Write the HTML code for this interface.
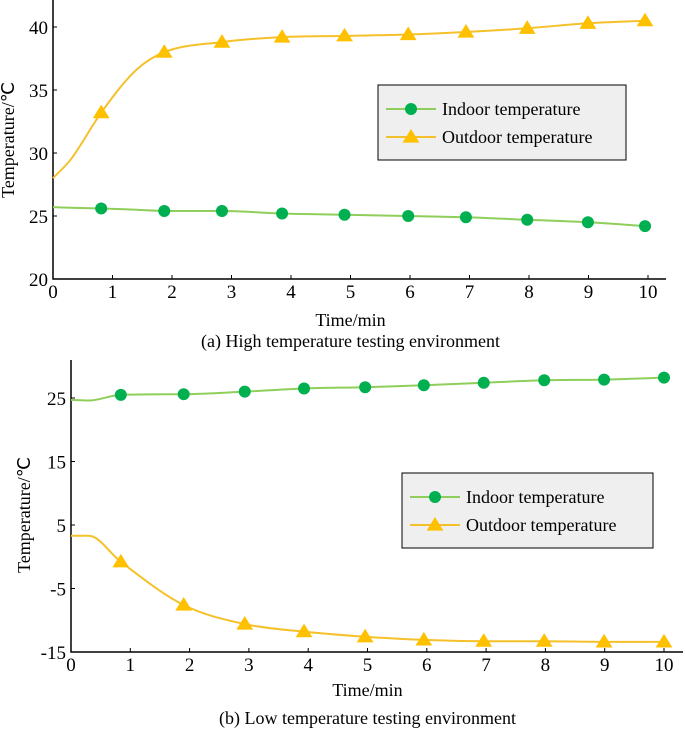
<!DOCTYPE html>
<html><head><meta charset="utf-8"><style>
body{margin:0;background:#fff}
svg{display:block;font-family:"Liberation Serif",serif}
</style></head><body>
<svg id="c" width="685" height="731"></svg>
<script>
const xTicks=[0,1,2,3,4,5,6,7,8,9,10];
const aYTicks=[20,25,30,35,40];
const aX=[0,0.3,0.81,1.4,1.87,2.84,3.85,4.9,5.97,6.94,7.97,8.99,9.95];
const aIndoor=[25.7,25.65,25.6,25.5,25.4,25.4,25.2,25.1,25.0,24.9,24.7,24.5,24.2];
const aOutdoor=[28,29.5,33.2,36.6,38.0,38.8,39.2,39.3,39.4,39.6,39.9,40.3,40.5];
const aMarked=[0,0,1,0,1,1,1,1,1,1,1,1,1];
const bYTicks=[-15,-5,5,15,25];
const bX=[0,0.3,0.84,1.9,2.93,3.93,4.96,5.95,6.96,7.98,8.99,10];
const bIndoor=[24.7,24.6,25.5,25.6,26.0,26.5,26.7,27.0,27.4,27.8,27.9,28.2];
const bOutdoor=[3.3,3.3,-0.8,-7.6,-10.6,-11.8,-12.6,-13.1,-13.3,-13.3,-13.4,-13.4];
const bMarked=[0,0,1,1,1,1,1,1,1,1,1,1];
const NS="http://www.w3.org/2000/svg",svg=document.getElementById('c');
function mk(t,a,p){const e=document.createElementNS(NS,t);for(const k in a)e.setAttribute(k,a[k]);(p||svg).appendChild(e);return e;}
function smooth(pts){
 const n=pts.length,d=[],m=[];
 for(let i=0;i<n-1;i++)d.push((pts[i+1][1]-pts[i][1])/(pts[i+1][0]-pts[i][0]));
 m[0]=d[0];m[n-1]=d[n-2];
 for(let i=1;i<n-1;i++)m[i]=(d[i-1]*d[i]<=0)?0:(d[i-1]+d[i])/2;
 for(let i=0;i<n-1;i++){if(d[i]===0){m[i]=0;m[i+1]=0;continue;}const a=m[i]/d[i],b=m[i+1]/d[i],s=a*a+b*b;if(s>9){const t=3/Math.sqrt(s);m[i]=t*a*d[i];m[i+1]=t*b*d[i];}}
 let p=`M${pts[0][0]},${pts[0][1]}`;
 for(let i=0;i<n-1;i++){const h=(pts[i+1][0]-pts[i][0])/3;p+=` C${pts[i][0]+h},${pts[i][1]+m[i]*h} ${pts[i+1][0]-h},${pts[i+1][1]-m[i+1]*h} ${pts[i+1][0]},${pts[i+1][1]}`;}
 return p;}
function tri(cx,cy,s){return `${cx},${cy-s} ${cx-s*1.05},${cy+s*0.7} ${cx+s*1.05},${cy+s*0.7}`;}
function chart(o){
 const g=mk('g',{});
 const sx=v=>o.x0+(o.x1-o.x0)*v/10, sy=v=>o.y0+(o.y1-o.y0)*(v-o.ymin)/(o.ymax-o.ymin);
 const ax=mk('path',{d:`M${o.x0},${o.top} V${o.y0} H${o.right}`,stroke:'#000','stroke-width':1.5,fill:'none'},g);
 
 xTicks.forEach(t=>{mk('line',{x1:sx(t),x2:sx(t),y1:o.y0,y2:o.y0-4,stroke:'#000'},g);
  const tx=mk('text',{x:sx(t),y:o.y0+19,'text-anchor':'middle','font-size':19},g);tx.textContent=t;
  });
 o.yt.forEach(t=>{mk('line',{x1:o.x0,x2:o.x0+4,y1:sy(t),y2:sy(t),stroke:'#000'},g);
  const tx=mk('text',{x:o.x0-5,y:sy(t)+7,'text-anchor':'end','font-size':19},g);tx.textContent=t;
  });
 let t=mk('text',{x:sx(5),y:o.y0+o.tOff,'text-anchor':'middle','font-size':18},g);t.textContent='Time/min';
 
 t=mk('text',{x:sx(5),y:o.y0+o.cOff,'text-anchor':'middle','font-size':18},g);t.textContent=o.caption;
 
 t=mk('text',{transform:`translate(${o.ylx},${o.ylY}) rotate(-90)`,'text-anchor':'middle','font-size':18},g);t.textContent='Temperature/℃';
 
 const series=[[o.ind,'#8fce5a','#00b050','circle','indoor'],[o.out,'#f5c12a','#ffc000','tri','outdoor']];
 series.forEach(([vals,lc,mc,shape,nm])=>{
  const pts=o.xs.map((x,i)=>[sx(x),sy(vals[i])]);
  const l=mk('path',{d:smooth(pts),stroke:lc,'stroke-width':2,fill:'none'},g);
  
  pts.forEach((p,i)=>{if(!o.marked[i])return;let m;
   if(shape==='circle')m=mk('circle',{cx:p[0],cy:p[1],r:6,fill:mc},g);
   else m=mk('polygon',{points:tri(p[0],p[1],8),fill:mc},g);
   });
 });
 const lg=mk('g',{},g);
 const L=o.leg;mk('rect',{x:L[0],y:L[1],width:L[2],height:L[3],fill:'#efefef',stroke:'#000','stroke-width':1},lg);
 [['Indoor temperature','#8fce5a','#00b050',0],['Outdoor temperature','#f5c12a','#ffc000',1]].forEach(([s,lc,mc,i])=>{
  const y=L[1]+24+i*28;
  const e=mk('g',{},lg);
  mk('line',{x1:L[0]+8,x2:L[0]+58,y1:y,y2:y,stroke:lc,'stroke-width':2},e);
  if(i===0)mk('circle',{cx:L[0]+33,cy:y,r:6,fill:mc},e);else mk('polygon',{points:tri(L[0]+33,y,8),fill:mc},e);
  const tx=mk('text',{x:L[0]+64,y:y+6,'font-size':18},e);tx.textContent=s;});
}
chart({name:'chart-a',x0:53,x1:648,y0:279,y1:27,ymin:20,ymax:40,top:0,right:666,yt:aYTicks,xs:aX,ind:aIndoor,out:aOutdoor,marked:aMarked,
 tOff:47,cOff:68,caption:'(a) High temperature testing environment',ylx:14,ylY:140,leg:[378,85,248,75]});
chart({name:'chart-b',x0:71,x1:664,y0:652,y1:398,ymin:-15,ymax:25,top:360,right:683,yt:bYTicks,xs:bX,ind:bIndoor,out:bOutdoor,marked:bMarked,
 tOff:44,cOff:72,caption:'(b) Low temperature testing environment',ylx:30,ylY:515,leg:[402,473,251,75]});
</script>
</body></html>
